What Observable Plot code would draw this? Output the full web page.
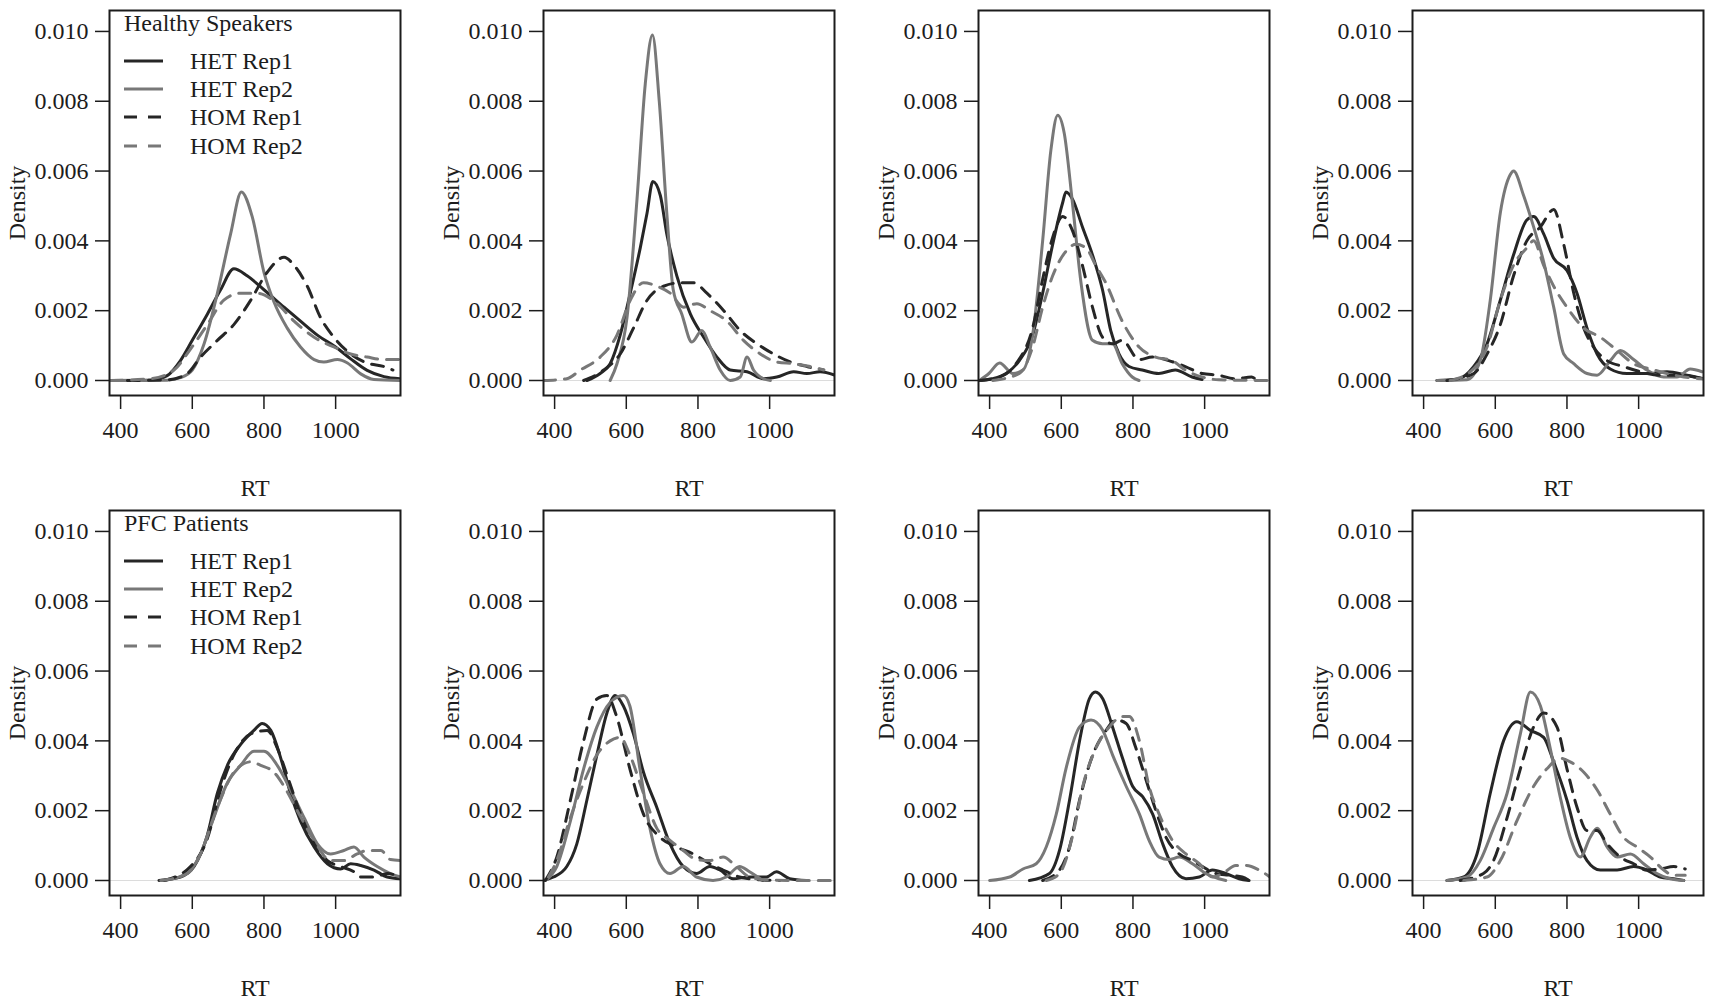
<!DOCTYPE html>
<html>
<head>
<meta charset="utf-8">
<script src="https://cdn.jsdelivr.net/npm/d3@7"></script>
<script src="https://cdn.jsdelivr.net/npm/@observablehq/plot@0.6"></script>
<style>
  html, body { margin: 0; padding: 0; background: #fff; }
  #wrap { position: relative; width: 1713px; height: 1005px; overflow: hidden; background: #fff; }
  #wrap > svg { position: absolute; }
</style>
</head>
<body>
<div id="wrap"></div>
<script>
// ---- Data: [RT, density] knots ----
const seriesNames = ["HET Rep1", "HET Rep2", "HOM Rep1", "HOM Rep2"];
const groupTitles = ["Healthy Speakers", "PFC Patients"];
const xTicks = [400, 600, 800, 1000];
const yTicks = [0, 0.002, 0.004, 0.006, 0.008, 0.010];

// Healthy speakers, panel 1
const hs1_het1 = [[372,0],[484,0.00001],[530,0.00014],[567,0.00057],[600,0.00115],[642,0.0019],[679,0.0026],[716,0.0032],[753,0.0030],[800,0.0026],[856,0.0021],[902,0.0017],[949,0.0013],[1000,0.00096],[1042,0.00062],[1088,0.00029],[1135,0.00011],[1181,0.00005]];
const hs1_het2 = [[372,0],[530,0.00001],[567,0.00008],[600,0.0003],[633,0.00105],[670,0.0025],[707,0.0042],[737,0.0054],[767,0.0047],[800,0.0031],[828,0.00225],[865,0.0015],[902,0.00096],[940,0.0006],[967,0.00053],[1005,0.0006],[1033,0.0005],[1070,0.00019],[1107,0.00003],[1181,0]];
const hs1_hom1 = [[419,0],[530,0.00002],[586,0.0002],[623,0.00067],[670,0.00115],[716,0.0016],[763,0.0023],[809,0.0031],[856,0.00353],[884,0.0033],[921,0.0027],[958,0.0018],[995,0.00124],[1042,0.00076],[1088,0.0005],[1135,0.0004],[1160,0.0003]];
const hs1_hom2 = [[372,0],[484,0.00005],[549,0.0003],[595,0.0009],[642,0.0016],[688,0.0023],[735,0.0025],[781,0.0025],[837,0.0022],[884,0.0017],[940,0.00124],[995,0.00096],[1042,0.00076],[1088,0.00067],[1135,0.0006],[1181,0.0006]];
// Healthy speakers, panel 2
const hs2_het1 = [[490,0],[527,0.0002],[555,0.00048],[583,0.0013],[611,0.0025],[639,0.0038],[658,0.0048],[674,0.0057],[695,0.0053],[713,0.0042],[741,0.003],[779,0.0019],[816,0.00124],[853,0.00067],[890,0.0003],[937,0.00025],[983,0.00005],[1020,0.0001],[1067,0.00025],[1104,0.0002],[1141,0.00025],[1183,0.00015]];
const hs2_het2 = [[555,0],[574,0.00048],[602,0.0018],[630,0.0052],[653,0.0085],[673,0.0099],[692,0.008],[713,0.0048],[731,0.0026],[755,0.0019],[783,0.0011],[811,0.00143],[834,0.00096],[862,0.0003],[890,0],[918,0.0001],[937,0.00067],[955,0.0003],[983,0.00005],[1002,0]];
const hs2_hom1 = [[481,0],[537,0.0003],[583,0.00076],[620,0.0015],[658,0.0023],[704,0.0027],[751,0.0028],[788,0.0028],[825,0.0025],[872,0.002],[918,0.00143],[965,0.00105],[1011,0.00076],[1058,0.00053],[1104,0.0004],[1151,0.0003]];
const hs2_hom2 = [[369,0],[434,0.00005],[472,0.0003],[527,0.00067],[574,0.0013],[611,0.0023],[648,0.0028],[686,0.0027],[723,0.0025],[760,0.0021],[797,0.0022],[834,0.002],[881,0.0017],[927,0.00115],[974,0.00076],[1020,0.00053],[1067,0.00048],[1113,0.0004],[1151,0.0003]];
// Healthy speakers, panel 3
const hs3_het1 = [[372,0],[409,0.00005],[446,0.0002],[483,0.00057],[520,0.0013],[548,0.0025],[576,0.0039],[604,0.0051],[613,0.0054],[631,0.0052],[659,0.0044],[687,0.0036],[715,0.0026],[738,0.00143],[761,0.00076],[789,0.0004],[826,0.0003],[872,0.0002],[918,0.0003],[965,0.0001],[993,0.00003]];
const hs3_het2 = [[372,0],[398,0.0002],[428,0.0005],[465,0.0002],[493,0.0003],[520,0.0013],[548,0.004],[571,0.0066],[590,0.0076],[608,0.0071],[631,0.0051],[655,0.0028],[687,0.00115],[715,0.00105],[743,0.00105],[770,0.00048],[798,0.0001],[817,0]];
const hs3_hom1 = [[372,0],[428,0.0001],[474,0.00048],[520,0.0015],[548,0.0029],[576,0.0041],[604,0.0047],[631,0.0043],[659,0.0033],[687,0.0021],[715,0.00124],[743,0.00105],[770,0.00115],[817,0.0006],[854,0.00067],[900,0.00057],[946,0.0004],[993,0.0002],[1039,0.00015],[1085,0.00005],[1131,0.0001],[1145,0]];
const hs3_hom2 = [[409,0],[483,0.0002],[520,0.00096],[548,0.0021],[576,0.003],[613,0.0037],[641,0.0039],[669,0.0038],[696,0.0033],[724,0.0028],[770,0.0017],[817,0.00096],[863,0.00067],[909,0.00057],[946,0.0003],[993,0.0001],[1039,0.00002],[1181,0]];
// Healthy speakers, panel 4
const hs4_het1 = [[437,0],[493,0.00003],[540,0.0004],[577,0.00105],[614,0.0023],[651,0.0036],[688,0.0046],[707,0.0047],[735,0.0042],[763,0.0035],[800,0.00315],[828,0.0025],[856,0.0015],[884,0.00076],[921,0.00033],[967,0.0002],[1023,0.0002],[1079,0.00025],[1135,0.00015],[1181,0.00005]];
const hs4_het2 = [[437,0],[521,0.00002],[558,0.00057],[586,0.0023],[614,0.0048],[642,0.0059],[651,0.006],[679,0.0053],[707,0.0044],[735,0.0034],[763,0.0021],[791,0.00076],[819,0.00048],[856,0.0002],[884,0.00015],[921,0.00057],[949,0.00086],[986,0.0006],[1023,0.0003],[1070,0.0001],[1107,0.0001],[1144,0.00033],[1177,0.00025]];
const hs4_hom1 = [[465,0],[540,0.0002],[577,0.00076],[614,0.0016],[651,0.003],[688,0.004],[726,0.0044],[763,0.0049],[791,0.0039],[819,0.0025],[847,0.0015],[874,0.00096],[912,0.00057],[958,0.0004],[1005,0.00025],[1060,0.00015],[1116,0.00015],[1177,0.00005]];
const hs4_hom2 = [[474,0],[530,0.00025],[577,0.00096],[614,0.0023],[651,0.0033],[688,0.0038],[707,0.004],[735,0.0033],[763,0.0027],[800,0.0021],[847,0.0015],[893,0.00124],[940,0.00086],[986,0.00048],[1033,0.00033],[1079,0.0002],[1126,0.0001],[1177,0.00005]];
// PFC patients, panel 5
const pfc1_het1 = [[507,0],[567,0.0001],[605,0.0004],[642,0.0013],[670,0.0025],[698,0.0033],[735,0.0039],[772,0.0043],[795,0.0045],[819,0.0043],[847,0.0035],[874,0.0025],[902,0.0017],[940,0.00096],[977,0.00048],[1014,0.00033],[1042,0.00048],[1070,0.00043],[1107,0.0003],[1144,0.0001],[1181,0.00005]];
const pfc1_het2 = [[521,0],[586,0.0002],[623,0.00076],[660,0.0018],[698,0.0028],[735,0.0033],[772,0.0037],[800,0.0037],[837,0.0033],[874,0.0026],[912,0.0018],[949,0.00105],[986,0.00076],[1023,0.00086],[1051,0.00096],[1079,0.00067],[1116,0.0004],[1153,0.0002],[1181,0.0001]];
const pfc1_hom1 = [[521,0],[595,0.0004],[642,0.0012],[679,0.0026],[716,0.0036],[763,0.0042],[809,0.0043],[837,0.0038],[865,0.003],[902,0.0019],[940,0.00105],[977,0.00057],[1014,0.0004],[1051,0.00025],[1070,0.0001],[1107,0.0001],[1144,0.0002],[1181,0.0001]];
const pfc1_hom2 = [[512,0],[586,0.0002],[623,0.00076],[670,0.0021],[716,0.0031],[763,0.0034],[791,0.0033],[828,0.0031],[856,0.0027],[893,0.002],[940,0.00115],[986,0.00057],[1023,0.00057],[1060,0.00076],[1088,0.00086],[1126,0.00086],[1153,0.0006],[1181,0.00057]];
// PFC patients, panel 6
const pfc2_het1 = [[369,0],[397,0.0001],[434,0.0004],[462,0.00105],[490,0.0023],[518,0.0036],[546,0.0048],[569,0.0053],[592,0.005],[620,0.0042],[648,0.0031],[685,0.0021],[722,0.00105],[759,0.0004],[796,0.0002],[833,0.0004],[861,0.0003],[898,0.00005],[944,0.0001],[991,0.0001],[1019,0.00025],[1056,0.00005],[1102,0]];
const pfc2_het2 = [[374,0],[406,0.0004],[444,0.0017],[481,0.0032],[518,0.0044],[555,0.0051],[592,0.0053],[610,0.005],[638,0.0032],[666,0.0015],[694,0.00048],[722,0.0002],[759,0.0004],[796,0.0001],[842,0],[879,0.0001],[916,0.0004],[944,0.00025],[981,0]];
const pfc2_hom1 = [[374,0],[406,0.00067],[444,0.0023],[481,0.004],[518,0.0052],[546,0.0053],[573,0.0047],[610,0.0032],[648,0.0019],[694,0.00124],[740,0.00096],[787,0.00076],[833,0.00048],[870,0.0003],[916,0.0001],[972,0.00002],[1028,0]];
const pfc2_hom2 = [[383,0.0001],[406,0.00057],[444,0.0018],[481,0.0028],[518,0.0036],[555,0.004],[583,0.0041],[610,0.0036],[648,0.0025],[685,0.0015],[722,0.00115],[759,0.00086],[796,0.0006],[833,0.00057],[870,0.00067],[907,0.0004],[944,0.0001],[991,0.00002],[1074,0],[1181,0]];
// PFC patients, panel 7
const pfc3_het1 = [[511,0],[567,0.0002],[595,0.00086],[623,0.0023],[651,0.004],[678,0.0052],[695,0.0054],[716,0.0052],[743,0.0044],[771,0.0035],[799,0.0027],[827,0.0024],[855,0.0019],[883,0.00105],[910,0.0004],[948,0.00005],[985,0.0001],[1022,0.0003],[1059,0.0002],[1096,0.00005],[1124,0]];
const pfc3_het2 = [[400,0],[456,0.0001],[493,0.00033],[530,0.00048],[558,0.00096],[586,0.0019],[613,0.0032],[651,0.0044],[683,0.0046],[716,0.0043],[743,0.0036],[781,0.0027],[818,0.0019],[845,0.00115],[873,0.00067],[901,0.0006],[929,0.00067],[966,0.00048],[1003,0.0002],[1040,0.00005],[1059,0]];
const pfc3_hom1 = [[548,0],[595,0.0003],[623,0.00096],[651,0.0023],[688,0.0036],[725,0.0043],[753,0.0046],[781,0.0045],[808,0.0038],[836,0.0029],[864,0.002],[892,0.00124],[929,0.00076],[966,0.00057],[994,0.0004],[1031,0.0002],[1068,0.00015],[1105,0.0001],[1124,0]];
const pfc3_hom2 = [[558,0],[595,0.0002],[632,0.0013],[660,0.0027],[697,0.0038],[734,0.0044],[771,0.0047],[790,0.0047],[818,0.004],[845,0.0027],[873,0.0019],[910,0.00115],[948,0.00076],[985,0.00048],[1022,0.0001],[1050,0.0002],[1087,0.00043],[1115,0.00043],[1152,0.0003],[1182,0.0001]];
// PFC patients, panel 8
const pfc4_het1 = [[465,0],[512,0.0001],[549,0.00076],[586,0.0025],[623,0.004],[660,0.00455],[698,0.0043],[735,0.0041],[763,0.0034],[800,0.0023],[828,0.00124],[856,0.00057],[893,0.0003],[940,0.0003],[986,0.0004],[1023,0.0003],[1060,0.0001],[1098,0.00005],[1126,0]];
const pfc4_het2 = [[465,0],[521,0.0001],[558,0.00057],[595,0.0015],[633,0.0025],[670,0.0042],[698,0.0054],[726,0.005],[753,0.0038],[781,0.0024],[809,0.00124],[837,0.00067],[865,0.00124],[884,0.0015],[912,0.00096],[940,0.00067],[977,0.00076],[1014,0.00048],[1051,0.0002],[1088,0.00005],[1126,0]];
const pfc4_hom1 = [[502,0],[567,0.0002],[595,0.00057],[633,0.0018],[670,0.0032],[707,0.0044],[735,0.0048],[772,0.0044],[800,0.0032],[828,0.0021],[856,0.00143],[884,0.00143],[912,0.00105],[949,0.00067],[986,0.00048],[1023,0.0003],[1060,0.00033],[1098,0.0004],[1130,0.00033]];
const pfc4_hom2 = [[512,0],[577,0.0001],[614,0.00057],[660,0.0017],[707,0.0027],[744,0.0032],[781,0.0035],[809,0.0034],[847,0.0031],[884,0.0026],[921,0.0019],[958,0.00124],[995,0.00096],[1033,0.00067],[1070,0.0003],[1098,0.00015],[1130,0.00015]];

const panels = [
  [hs1_het1, hs1_het2, hs1_hom1, hs1_hom2],
  [hs2_het1, hs2_het2, hs2_hom1, hs2_hom2],
  [hs3_het1, hs3_het2, hs3_hom1, hs3_hom2],
  [hs4_het1, hs4_het2, hs4_hom1, hs4_hom2],
  [pfc1_het1, pfc1_het2, pfc1_hom1, pfc1_hom2],
  [pfc2_het1, pfc2_het2, pfc2_hom1, pfc2_hom2],
  [pfc3_het1, pfc3_het2, pfc3_hom1, pfc3_hom2],
  [pfc4_het1, pfc4_het2, pfc4_hom1, pfc4_hom2]
];

// ---- Styles ----
const DARK = "#262626", GRAY = "#787878";
const styles = [
  {stroke: DARK, dash: null},
  {stroke: GRAY, dash: null},
  {stroke: DARK, dash: "12,9"},
  {stroke: GRAY, dash: "12,9"}
];
const FONT = "'Liberation Serif', 'Times New Roman', serif";
const FS = 24;
const lefts = [0, 434, 869, 1303];
const tops = [0, 500];
const W = 410, H = 500, ML = 109, MR = 10, MT = 10, MB = 105;

const wrap = document.getElementById("wrap");

panels.forEach((series, i) => {
  const col = i % 4, row = Math.floor(i / 4);
  const marks = [
    Plot.ruleY([0], {stroke: "#dcdcdc", strokeWidth: 1}),
    ...series.map((s, k) => Plot.line(s, {
      x: d => d[0], y: d => d[1],
      stroke: styles[k].stroke, strokeWidth: 3,
      strokeDasharray: styles[k].dash || undefined,
      curve: "monotone-x", clip: true
    })),
    Plot.frame({stroke: "#1c1c1c", strokeWidth: 2}),
    Plot.axisX({ticks: xTicks, tickSize: 14, tickPadding: 11, label: null, tickFormat: d3.format("d"),
      stroke: "#1c1c1c", strokeWidth: 1.5, fill: "#1c1c1c", fontSize: FS}),
    Plot.axisY({ticks: yTicks, tickSize: 14, tickPadding: 7, label: null, tickFormat: d3.format(".3f"),
      stroke: "#1c1c1c", strokeWidth: 1.5, fill: "#1c1c1c", fontSize: FS}),
    Plot.text(["RT"], {frameAnchor: "bottom", dy: 93, lineAnchor: "middle", textAnchor: "middle",
      fill: "#1c1c1c", fontSize: FS}),
    Plot.text(["Density"], {frameAnchor: "left", dx: -92, rotate: -90, lineAnchor: "middle", textAnchor: "middle",
      fill: "#1c1c1c", fontSize: FS})
  ];
  const svg = Plot.plot({
    width: W, height: H,
    marginLeft: ML, marginRight: MR, marginTop: MT, marginBottom: MB,
    style: {fontFamily: FONT, fontSize: FS + "px", background: "#fff", color: "#1c1c1c", overflow: "visible"},
    x: {domain: [369, 1181]},
    y: {domain: [-0.00043, 0.0106]},
    marks
  });
  svg.style.left = lefts[col] + "px";
  svg.style.top = tops[row] + "px";

  // Legend (first panel of each row)
  if (col === 0) {
    const g = d3.select(svg).append("g")
      .attr("font-family", FONT).attr("font-size", FS).attr("fill", "#1c1c1c")
      .attr("text-anchor", "start");
    g.append("text").attr("x", ML + 15).attr("y", MT + 21).text(groupTitles[row]);
    seriesNames.forEach((name, k) => {
      const yc = MT + [51, 79, 107, 136][k];
      g.append("line").attr("x1", ML + 15).attr("x2", ML + 54)
        .attr("y1", yc).attr("y2", yc)
        .attr("stroke", styles[k].stroke).attr("stroke-width", 3)
        .attr("stroke-dasharray", styles[k].dash ? "13,11" : null);
      g.append("text").attr("x", ML + 81).attr("y", yc + 8).text(name);
    });
  }
  wrap.appendChild(svg);
});
</script>
</body>
</html>
